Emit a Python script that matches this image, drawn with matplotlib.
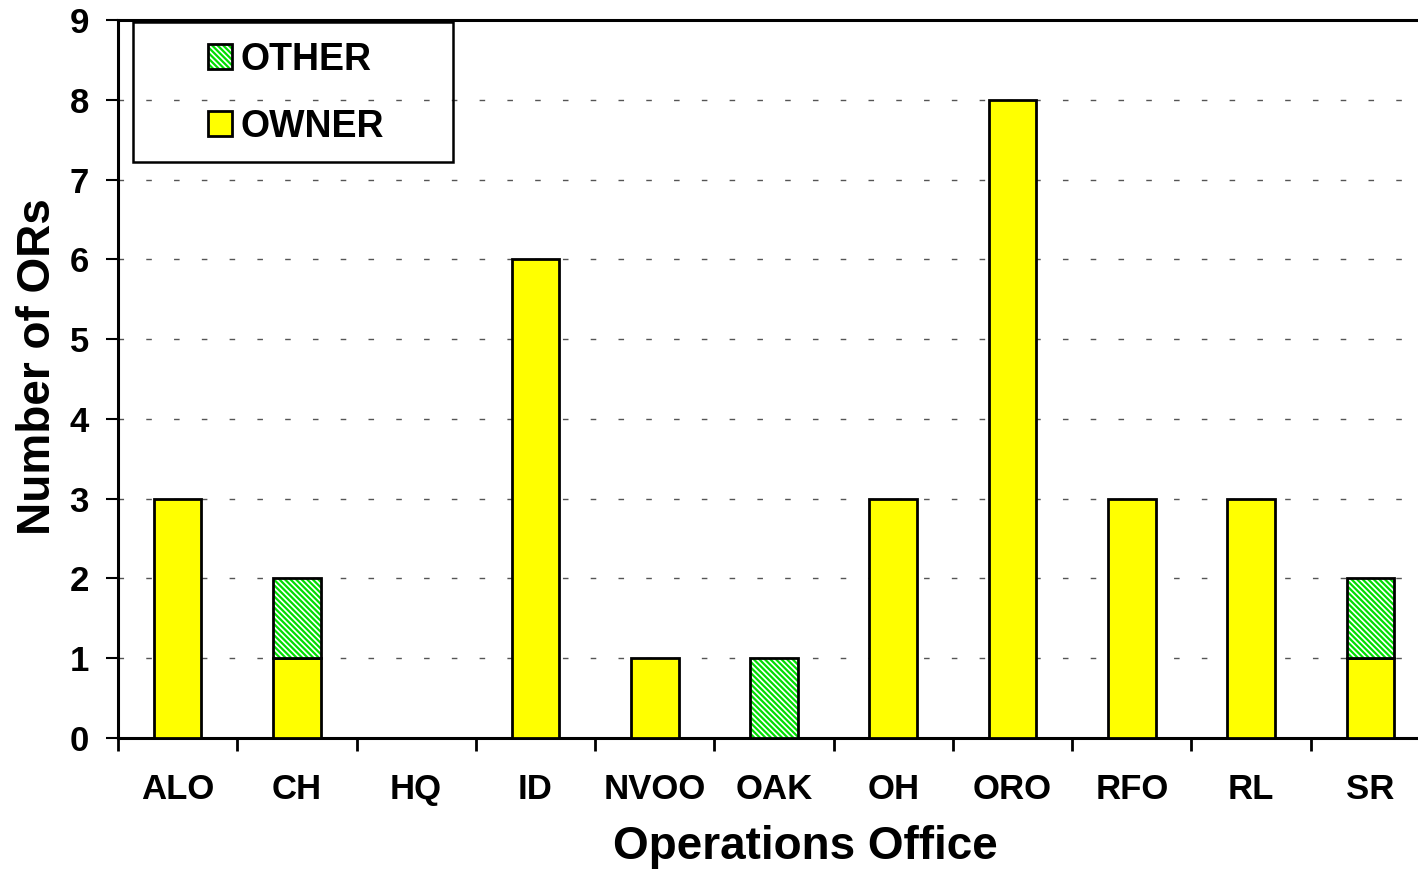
import matplotlib
matplotlib.use("Agg")
import matplotlib.pyplot as plt
from matplotlib.legend_handler import HandlerTuple
from matplotlib.patches import Rectangle
import numpy as np

categories = ["ALO", "CH", "HQ", "ID", "NVOO", "OAK", "OH", "ORO", "RFO", "RL", "SR"]
owner = [3, 1, 0, 6, 1, 0, 3, 8, 3, 3, 1]
other = [0, 1, 0, 0, 0, 1, 0, 0, 0, 0, 1]
yticks = list(range(0, 10))

plt.rcParams['font.family'] = ['Liberation Sans', 'DejaVu Sans']
plt.rcParams['font.weight'] = 'bold'
plt.rcParams['hatch.linewidth'] = 1.6

fig = plt.figure(figsize=(14.18, 8.73), dpi=100)
W, H = 1418, 873
ax = fig.add_axes([118 / W, 1 - 738 / H, (1430 - 118) / W, (738 - 20) / H])

x = np.arange(len(categories))
bw = 0.40
yellow = '#FFFF00'
green = '#00DD00'

ax.grid(axis='y', color='#555555', linestyle=(0, (4, 16)), linewidth=1.0, zorder=0)
ax.set_axisbelow(True)

b_owner = ax.bar(x, owner, width=bw, color=yellow, edgecolor='black', linewidth=2, zorder=3)
b_other_h = ax.bar(x, other, width=bw, bottom=owner, color='white', edgecolor=green,
                   hatch='\\\\\\\\\\\\', linewidth=0, zorder=3)
b_other_e = ax.bar(x, other, width=bw, bottom=owner, fill=False, edgecolor='black',
                   linewidth=2, zorder=4)
for i, v in enumerate(other):
    if v == 0:
        b_other_h[i].set_visible(False)
        b_other_e[i].set_visible(False)
for i, v in enumerate(owner):
    if v == 0:
        b_owner[i].set_visible(False)

ax.set_xlim(-0.5, len(categories) - 0.5)
ax.set_ylim(0, 9)
ax.set_yticks(yticks)
ax.set_yticklabels([str(t) for t in yticks], fontsize=25, fontweight='bold')

ax.set_xticks(np.arange(len(categories) + 1) - 0.5)
ax.set_xticklabels([])
ax.set_xticks(x, minor=True)
ax.set_xticklabels(categories, minor=True, fontsize=25, fontweight='bold')
ax.tick_params(axis='x', which='major', direction='out', length=9, width=2)
ax.tick_params(axis='x', which='minor', length=0, pad=25)
ax.tick_params(axis='y', direction='out', length=9, width=1.5, pad=12)

for s in ['left', 'bottom', 'top']:
    ax.spines[s].set_linewidth(2.2)
    ax.spines[s].set_color('black')
ax.spines['right'].set_visible(False)

ax.set_ylabel('Number of ORs', fontsize=33, fontweight='bold')
ax.yaxis.set_label_coords(-0.044, (738 - 367) / 718)
ax.set_xlabel('Operations Office', fontsize=33, fontweight='bold')
ax.xaxis.set_label_coords((805 - 118) / 1312, -(847 - 738) / 718)
ax.xaxis.label.set_va('center')

# legend frame
fig.patches.append(Rectangle((133 / W, 1 - 162 / H), (453 - 133) / W, (162 - 22) / H,
                             transform=fig.transFigure, fill=False, edgecolor='black',
                             linewidth=1.8, zorder=10))

leg = fig.legend([(b_other_h[1], b_other_e[1]), b_owner[0]], ['OTHER', 'OWNER'],
                 handler_map={tuple: HandlerTuple(ndivide=1)},
                 loc='upper left', bbox_to_anchor=(208 / W, 1 - 42 / H),
                 bbox_transform=fig.transFigure,
                 prop={'size': 27, 'weight': 'bold'}, frameon=False,
                 handlelength=0.64, handleheight=0.64, handletextpad=0.22,
                 labelspacing=0.82, borderpad=0, borderaxespad=0)

fig.savefig('out.png', dpi=100)
